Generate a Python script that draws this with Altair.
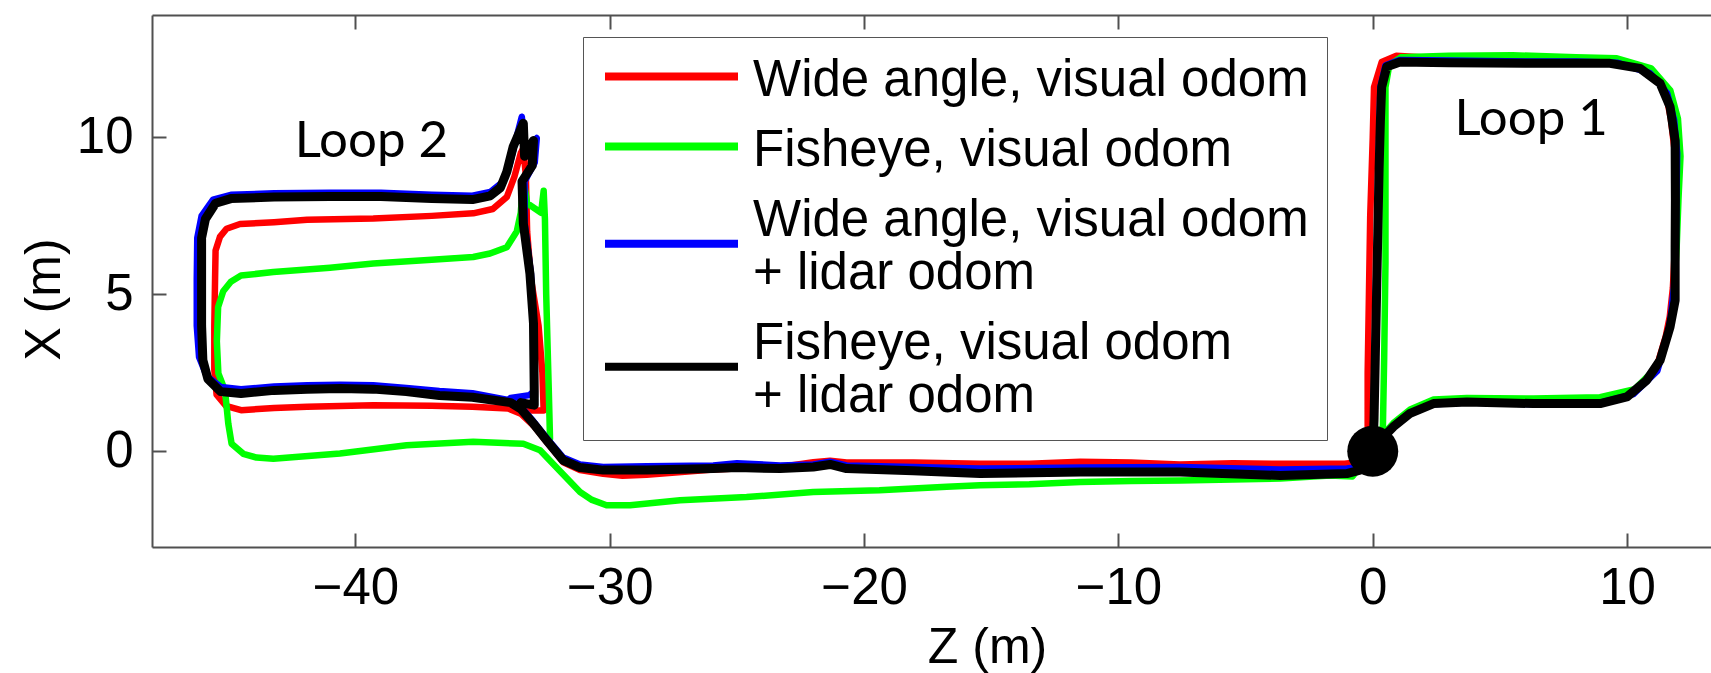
import altair as alt
import pandas as pd

# ---------------- data ----------------
SERIES = [
    "Wide angle, visual odom",
    "Fisheye, visual odom",
    "Wide angle, visual odom\n+ lidar odom",
    "Fisheye, visual odom\n+ lidar odom",
]
COLORS = ["#ff0000", "#00ff00", "#0000ff", "#000000"]

# (Z, X) points, in metres
RED_PATH = [
    (0.0, 0.0), (-0.2, 0.8), (-0.2, 2.5), (-0.15, 5.0), (-0.1, 7.5), (0.0, 10.0), (0.05, 11.6),
    (0.35, 12.4), (0.93, 12.6), (3.0, 12.5), (6.0, 12.45), (8.0, 12.45), (9.6, 12.42),
    (10.9, 12.08), (11.5, 11.5), (11.72, 10.6), (11.88, 9.5), (11.92, 8.0), (11.88, 6.5),
    (11.8, 5.2), (11.68, 4.3), (11.52, 3.66), (11.13, 2.6), (10.22, 1.86), (8.94, 1.58),
    (6.32, 1.54), (3.7, 1.58), (2.39, 1.54), (1.47, 1.24), (0.8, 0.8), (0.15, 0.25), (0.0, 0.0),
    (-0.6, -0.35), (-1.1, -0.4), (-3.64, -0.4), (-5.5, -0.38), (-7.58, -0.42), (-9.5, -0.36),
    (-11.5, -0.33), (-13.5, -0.4), (-15.44, -0.4), (-18.07, -0.36), (-20.69, -0.36),
    (-21.34, -0.3), (-22.0, -0.35), (-23.3, -0.5), (-25.0, -0.55), (-25.93, -0.58),
    (-28.55, -0.75), (-29.5, -0.78), (-30.26, -0.72), (-31.17, -0.6), (-31.83, -0.35),
    (-32.48, 0.3), (-33.0, 0.82), (-33.5, 1.2), (-34.0, 1.36), (-35.4, 1.42), (-37.0, 1.45),
    (-39.3, 1.47), (-41.9, 1.42), (-43.2, 1.38), (-44.5, 1.31), (-45.1, 1.45), (-45.46, 1.8),
    (-45.55, 2.6), (-45.55, 4.0), (-45.52, 5.5), (-45.5, 6.4), (-45.33, 6.83), (-45.07, 7.09),
    (-44.54, 7.24), (-43.2, 7.3), (-41.9, 7.38), (-39.3, 7.42), (-37.0, 7.5), (-35.37, 7.58),
    (-34.6, 7.72), (-34.05, 8.1), (-33.75, 8.75), (-33.5, 9.5), (-33.4, 9.65), (-33.3, 8.8),
    (-33.25, 7.0), (-33.1, 5.5), (-32.8, 4.0), (-32.65, 2.5), (-32.6, 1.3), (-33.2, 1.3),
]

GREEN_PATH = [
    (0.0, 0.0), (0.4, 0.8), (0.45, 3.0), (0.5, 6.0), (0.5, 9.0), (0.5, 11.6), (0.65, 12.3),
    (1.1, 12.55), (3.0, 12.6), (5.5, 12.62), (8.0, 12.55), (9.6, 12.52), (10.95, 12.2),
    (11.7, 11.5), (12.0, 10.6), (12.1, 9.4), (12.02, 8.0), (11.95, 6.5), (11.85, 5.2),
    (11.75, 4.3), (11.6, 3.7), (11.2, 2.7), (10.3, 1.98), (8.94, 1.72), (6.32, 1.68),
    (3.7, 1.7), (2.39, 1.65), (1.47, 1.33), (0.81, 0.9), (0.16, 0.3), (0.0, 0.0),
    (-0.8, -0.8), (-1.67, -0.77), (-3.64, -0.87), (-5.5, -0.9), (-7.58, -0.93), (-9.5, -0.95),
    (-11.5, -0.98), (-13.5, -1.05), (-15.44, -1.08), (-16.75, -1.13), (-19.4, -1.24),
    (-22.0, -1.3), (-24.62, -1.46), (-27.24, -1.56), (-29.2, -1.72), (-30.13, -1.72),
    (-30.7, -1.55), (-31.17, -1.3), (-32.0, -0.6), (-32.74, 0.03), (-33.4, 0.24),
    (-35.37, 0.3), (-37.99, 0.19), (-40.61, -0.07), (-43.23, -0.24), (-43.89, -0.2),
    (-44.41, -0.08), (-44.87, 0.24), (-45.0, 0.88), (-45.13, 1.94), (-45.39, 2.48),
    (-45.45, 3.5), (-45.4, 4.6), (-45.2, 5.1), (-44.9, 5.4), (-44.5, 5.6), (-43.23, 5.71),
    (-41.0, 5.85), (-39.3, 5.98), (-37.0, 6.1), (-35.37, 6.19), (-34.71, 6.3), (-34.05, 6.5),
    (-33.66, 7.0), (-33.5, 7.6), (-33.4, 8.7), (-33.25, 7.9), (-32.7, 7.6), (-32.6, 8.3),
    (-32.55, 7.4), (-32.5, 5.0), (-32.4, 2.0), (-32.35, 0.4),
]

BLUE_PATH = [
    (0.0, 0.0), (0.03, 1.0), (0.08, 3.0), (0.12, 5.0), (0.18, 7.0), (0.22, 9.0), (0.27, 10.5),
    (0.3, 11.6), (0.5, 12.3), (1.07, 12.47), (3.0, 12.45), (6.0, 12.42), (8.0, 12.42),
    (9.6, 12.38), (10.9, 12.05), (11.58, 11.4), (11.85, 10.55), (11.97, 9.5), (11.94, 8.0),
    (11.92, 6.5), (11.84, 5.2), (11.72, 4.3), (11.58, 3.64), (11.19, 2.56), (10.25, 1.82),
    (8.94, 1.55), (6.32, 1.5), (3.7, 1.55), (2.39, 1.5), (1.47, 1.2), (0.81, 0.77),
    (0.16, 0.24), (0.0, 0.0),
    (-0.5, -0.5), (-1.02, -0.55), (-3.64, -0.58), (-7.58, -0.5), (-11.5, -0.52),
    (-15.44, -0.55), (-18.07, -0.5), (-20.69, -0.45), (-21.34, -0.33), (-22.0, -0.42),
    (-23.3, -0.45), (-25.0, -0.38), (-25.93, -0.45), (-28.55, -0.48), (-30.26, -0.5),
    (-31.17, -0.42), (-31.83, -0.2), (-32.48, 0.42), (-33.0, 0.95), (-33.5, 1.42),
    (-33.9, 1.62), (-35.4, 1.85), (-36.7, 1.92), (-38.0, 2.02), (-39.3, 2.1), (-40.6, 2.12),
    (-41.9, 2.1), (-43.2, 2.06), (-44.5, 1.98), (-45.3, 2.05), (-45.85, 2.4), (-46.15, 3.0),
    (-46.24, 4.0), (-46.24, 5.5), (-46.22, 6.8), (-46.05, 7.5), (-45.6, 8.02), (-44.9, 8.17),
    (-43.2, 8.22), (-41.0, 8.24), (-39.0, 8.24), (-37.0, 8.17), (-35.4, 8.14), (-34.7, 8.26),
    (-34.25, 8.55), (-33.95, 9.1), (-33.7, 9.9), (-33.46, 10.66), (-33.3, 9.5),
    (-32.87, 9.98), (-32.95, 9.2), (-33.35, 8.6), (-33.35, 7.26), (-33.1, 5.66),
    (-33.0, 4.07), (-32.95, 1.94), (-33.16, 1.79), (-33.9, 1.7),
]

BLACK_PATH = [
    (0.0, 0.0), (0.05, 1.0), (0.1, 3.0), (0.15, 5.0), (0.2, 7.0), (0.25, 9.0), (0.3, 10.5),
    (0.35, 11.6), (0.55, 12.25), (1.07, 12.4), (3.0, 12.38), (6.0, 12.36), (8.0, 12.36),
    (9.33, 12.36), (10.51, 12.2), (11.3, 11.72), (11.69, 10.98), (11.89, 9.9), (11.9, 8.0),
    (11.89, 6.5), (11.89, 4.81), (11.69, 3.96), (11.3, 2.9), (10.77, 2.26), (9.99, 1.73),
    (8.94, 1.52), (6.32, 1.52), (3.7, 1.57), (2.39, 1.52), (1.47, 1.21), (0.81, 0.78),
    (0.16, 0.24), (0.0, 0.0),
    (-0.5, -0.6), (-1.02, -0.71), (-3.64, -0.77), (-7.58, -0.66), (-11.5, -0.66),
    (-15.44, -0.71), (-18.07, -0.62), (-20.69, -0.55), (-21.34, -0.42), (-22.0, -0.5),
    (-23.3, -0.55), (-25.0, -0.52), (-25.93, -0.55), (-28.55, -0.6), (-30.26, -0.6),
    (-31.17, -0.52), (-31.83, -0.29), (-32.48, 0.35), (-33.0, 0.88), (-33.5, 1.35),
    (-33.9, 1.55), (-35.4, 1.72), (-36.7, 1.78), (-38.0, 1.9), (-39.3, 1.98), (-40.6, 2.0),
    (-41.9, 1.98), (-43.2, 1.94), (-44.5, 1.84), (-45.3, 1.9), (-45.8, 2.3), (-46.0, 2.9),
    (-46.05, 4.0), (-46.05, 5.5), (-46.05, 6.8), (-45.9, 7.4), (-45.5, 7.9), (-44.9, 8.05),
    (-43.2, 8.1), (-41.0, 8.12), (-39.0, 8.12), (-37.0, 8.05), (-35.4, 8.02), (-34.7, 8.14),
    (-34.3, 8.4), (-34.05, 8.9), (-33.8, 9.7), (-33.4, 10.45), (-33.35, 9.4),
    (-33.0, 9.9), (-33.05, 9.1), (-33.45, 8.6), (-33.4, 7.26), (-33.14, 5.66),
    (-33.0, 4.07), (-32.97, 1.94), (-32.97, 1.47), (-33.5, 1.55),
]

START_Z = [0.0]
START_X = [0.0]

LOOP_LABELS = ["Loop 1", "Loop 2"]
LOOP_Z = [6.23, -39.37]
LOOP_X = [10.07, 9.38]

X_TICKS = [-40, -30, -20, -10, 0, 10]
Y_TICKS = [0, 5, 10]
Z_DOMAIN = [-48.0, 13.3]
X_DOMAIN = [-3.05, 13.9]

# ---------------- tables ----------------
rows = []
for name, path in zip(SERIES, [RED_PATH, GREEN_PATH, BLUE_PATH, BLACK_PATH]):
    for i, (z, x) in enumerate(path):
        rows.append({"series": name, "i": i, "z": z, "x": x})
lines_df = pd.DataFrame(rows)
start_df = pd.DataFrame({"z": START_Z, "x": START_X})
loop_df = pd.DataFrame({"label": LOOP_LABELS, "z": LOOP_Z, "x": LOOP_X})

AX_COLOR = "#505050"
FONT = "Liberation Sans"

xscale = alt.Scale(domain=Z_DOMAIN, nice=False, zero=False)
yscale = alt.Scale(domain=X_DOMAIN, nice=False, zero=False)

y_axis = alt.Axis(
    values=Y_TICKS, title="X (m)", orient="left",
    labelFont=FONT, labelFontSize=51, labelColor="black", labelPadding=33,
    tickSize=alt.ExprRef(expr="-14"), tickColor=AX_COLOR, tickWidth=2,
    domainColor=AX_COLOR, domainWidth=2, grid=False,
    titleFont=FONT, titleFontSize=50, titleFontWeight="normal", titleColor="black",
    titleAngle=270, titleAlign="center", titleBaseline="middle", titleX=-108, titleY=284,
)

x_axis_bottom = alt.Axis(
    values=X_TICKS, title="Z (m)", orient="bottom",
    labelFont=FONT, labelFontSize=51, labelColor="black", labelPadding=30,
    tickSize=alt.ExprRef(expr="-14"), tickColor=AX_COLOR, tickWidth=2,
    domainColor=AX_COLOR, domainWidth=2, grid=False,
    titleFont=FONT, titleFontSize=50, titleFontWeight="normal", titleColor="black",
    titleAlign="center", titleBaseline="alphabetic", titleX=835, titleY=115,
)

x_axis_top = alt.Axis(
    values=X_TICKS, title=None, orient="top", labels=False,
    tickSize=alt.ExprRef(expr="-14"), tickColor=AX_COLOR, tickWidth=2,
    domainColor=AX_COLOR, domainWidth=2, grid=False,
)

# legend sample line: a horizontal stroke, moved down about half a text line for two-line labels
SYMBOL_EXPR = "indexof(datum.value, '\\n') >= 0 ? 'M-1,0.35L1,0.35' : 'M-1,-0.06L1,-0.06'"

lines = alt.Chart(lines_df).mark_line(
    strokeCap="round", strokeJoin="round"
).encode(
    x=alt.X("z:Q", scale=xscale, axis=x_axis_bottom),
    y=alt.Y("x:Q", scale=yscale, axis=y_axis),
    color=alt.Color(
        "series:N",
        scale=alt.Scale(domain=SERIES, range=COLORS),
        legend=alt.Legend(
            orient="none", legendX=431, legendY=22, title=None,
            symbolType=alt.ExprRef(expr=SYMBOL_EXPR), symbolSize=17689, symbolStrokeWidth=8,
            clipHeight=51, gridAlign="none",
            labelFont=FONT, labelFontSize=51, labelColor="black", labelLimit=1000,
            labelOffset=11, rowPadding=18, padding=18,
            strokeColor="#555555", fillColor="white",
            labelExpr="split(datum.label, '\\n')",
        ),
    ),
    strokeWidth=alt.condition(
        alt.datum.series == SERIES[3], alt.value(9), alt.value(6.5)
    ),
    order=alt.Order("i:Q"),
    detail="series:N",
)

dot = alt.Chart(start_df).mark_circle(color="black", opacity=1, size=2600).encode(
    x=alt.X("z:Q", scale=xscale, axis=None),
    y=alt.Y("x:Q", scale=yscale, axis=y_axis),
)

loops = alt.Chart(loop_df).mark_text(
    font="Lato", fontSize=51, color="black", align="center", baseline="alphabetic"
).encode(
    x=alt.X("z:Q", scale=xscale, axis=x_axis_top),
    y=alt.Y("x:Q", scale=yscale, axis=y_axis),
    text="label:N",
)

chart = alt.layer(lines, dot, loops).resolve_axis(x="independent").properties(
    width=1559,
    height=532,
    padding={"left": 152, "top": 15, "right": 0, "bottom": 126},
    autosize=alt.AutoSizeParams(type="none"),
    background="white",
).configure_view(strokeWidth=0)

chart.save("out.html", embed_options={"renderer": "svg", "actions": False})
